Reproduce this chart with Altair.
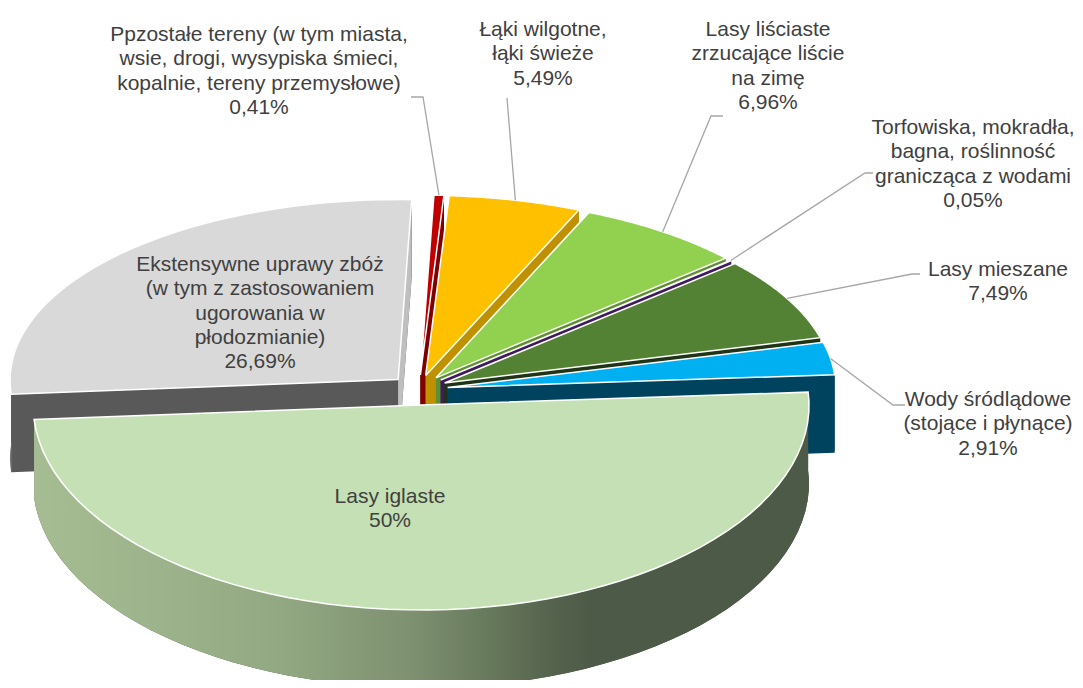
import math
import altair as alt
import pandas as pd

# ---------------- data ----------------
NAMES = ["Ppzostałe tereny", "Łąki wilgotne", "Lasy liściaste", "Torfowiska",
         "Lasy mieszane", "Wody śródlądowe", "Lasy iglaste", "Ekstensywne uprawy zbóż"]
LABELS = [
    "Ppzostałe tereny (w tym miasta,\nwsie, drogi, wysypiska śmieci,\nkopalnie, tereny przemysłowe)",
    "Łąki wilgotne,\nłąki świeże",
    "Lasy liściaste\nzrzucające liście\nna zimę",
    "Torfowiska, mokradła,\nbagna, roślinność\ngranicząca z wodami",
    "Lasy mieszane",
    "Wody śródlądowe\n(stojące i płynące)",
    "Lasy iglaste",
    "Ekstensywne uprawy zbóż\n(w tym z zastosowaniem\nugorowania w\npłodozmianie)",
]
VALUES = [0.41, 5.49, 6.96, 0.05, 7.49, 2.91, 50.0, 26.69]

# ---------------- styles ----------------
TOP_COLORS = ["#C00000", "#FFC000", "#92D050", "#7030A0", "#548235", "#00B0F0", "#C5E0B4", "#D9D9D9"]
SIDE_COLORS = ["#7F0000", "#BF9000", "#5F8F33", "#3F1B5E", "#1F3315", "#00435F", "#4E5B48", "#595959"]
GRAY_EDGE = "#BFBFBF"

# ---------------- layout (chart pixel space) ----------------
W, H = 1067, 672
CX, CY = 411, 382          # pie centre
EX, EY = 29, 15            # explosion offset
RX, RYB, RYF = 388, 180, 205
DEPTH = 78
ROT = 2.0                  # first slice angle (degrees)
N = 60

LABEL_X = [251, 535, 760, 965, 990, 980, 382, 252]
LABEL_Y = [27, 22, 22, 120, 262, 392, 489, 257]
LEAD_MX = [415, 499, 703, 857, 904, 885, None, None]
LEAD_MY = [89, 90, 108, 165, 266, 397, None, None]
LEAD_EX = [403, 499, 715, 865, 912, 897, None, None]
LEAD_EY = [89, 90, 108, 165, 266, 397, None, None]


def pct(v):
    s = f"{v:.2f}".rstrip("0").rstrip(".")
    return s.replace(".", ",") + "%"


# painter order (back slices first)
tot = sum(VALUES)
cum = 0.0
mids = []
for v in VALUES:
    mids.append(math.radians(ROT) + 2 * math.pi * (cum + v / 2) / tot)
    cum += v
back_to_front = sorted(range(len(VALUES)), key=lambda i: -math.cos(mids[i]))
Z = [back_to_front.index(i) for i in range(len(VALUES))]

df = pd.DataFrame({
    "name": NAMES, "label": LABELS, "value": VALUES, "ord": list(range(len(VALUES))),
    "z": Z, "pct": [pct(v) for v in VALUES],
    "lx": LABEL_X, "ly": LABEL_Y,
    "mx": LEAD_MX, "my": LEAD_MY, "ex": LEAD_EX, "ey": LEAD_EY,
})

xs = alt.Scale(domain=[0, W], nice=False, zero=False)
ys = alt.Scale(domain=[0, H], nice=False, zero=False, reverse=True)
X = lambda f: alt.X(f, type="quantitative", scale=xs, axis=None)
Y = lambda f: alt.Y(f, type="quantitative", scale=ys, axis=None)


def ex_x(a):
    return f"datum.ox+{RX}*sin({a})"


def ex_y(a):
    return f"datum.oy-(cos({a})>0?{RYB}:{RYF})*cos({a})"


base = alt.Chart(df)
ROT_RAD = math.radians(ROT)


def geo(ch):
    return (ch.transform_joinaggregate(total="sum(value)")
            .transform_window(cum="sum(value)", sort=[alt.SortField("ord")], frame=[None, 0])
            .transform_calculate(a0=f"{ROT_RAD}+2*PI*(datum.cum-datum.value)/datum.total",
                                 a1=f"{ROT_RAD}+2*PI*datum.cum/datum.total")
            .transform_calculate(am="(datum.a0+datum.a1)/2")
            .transform_calculate(ox=f"{CX}+{EX}*sin(datum.am)", oy=f"{CY}-{EY}*cos(datum.am)"))


NB = 2 * N + 2
side_src = (geo(base)
            .transform_calculate(s=f"sequence(0,{NB + 8})")
            .transform_flatten(["s"], as_=["k"])
            .transform_calculate(part=f"datum.k<{NB}?0:(datum.k<{NB + 4}?1:2)",
                                 j=f"datum.k<{NB}?0:(datum.k-{NB})%4")
            .transform_calculate(
                ctr="datum.part>0&&(datum.j==0||datum.j==3)",
                ang=(f"datum.part==0?(datum.k<={N}?datum.a0+(datum.a1-datum.a0)*datum.k/{N}:"
                     f"datum.a1-(datum.a1-datum.a0)*(datum.k-{N + 1})/{N}):(datum.part==1?datum.a0:datum.a1)"),
                dz=f"datum.part==0?(datum.k<={N}?0:{DEPTH}):(datum.j>=2?{DEPTH}:0)")
            .transform_calculate(px=f"datum.ctr?datum.ox:{ex_x('datum.ang')}",
                                 py=f"(datum.ctr?datum.oy:{ex_y('datum.ang')})+datum.dz"))

GRAY_NAME = NAMES[-1]
side_layers = []
for r in range(len(VALUES)):
    side_layers.append(
        side_src.transform_filter(f"datum.z=={r}")
        .mark_line(filled=True, strokeWidth=0)
        .encode(x=X("px"), y=Y("py"), order=alt.Order("k:Q"), detail="part:N",
                color=alt.Color("name:N", scale=alt.Scale(domain=NAMES, range=SIDE_COLORS), legend=None))
    )
    if r == Z[-1]:
        side_layers.append(
            side_src.transform_filter(f"datum.name=='{GRAY_NAME}'&&datum.part==2")
            .mark_line(filled=True, color=GRAY_EDGE, strokeWidth=0)
            .encode(x=X("px"), y=Y("py"), order=alt.Order("k:Q"))
        )

grad = alt.Gradient(gradient="linear", x1=0, x2=1, y1=0, y2=0, stops=[
    alt.GradientStop(offset=0, color="#A6BD93"),
    alt.GradientStop(offset=0.31, color="#93A983"),
    alt.GradientStop(offset=0.49, color="#7D9070"),
    alt.GradientStop(offset=0.58, color="#697B5D"),
    alt.GradientStop(offset=0.67, color="#55624D"),
    alt.GradientStop(offset=0.72, color="#4D5A47"),
    alt.GradientStop(offset=1, color="#4D5A47"),
])
band_front = (side_src.transform_filter("datum.name=='Lasy iglaste'&&datum.part==0")
              .mark_line(filled=True, color=grad, strokeWidth=0)
              .encode(x=X("px"), y=Y("py"), order=alt.Order("k:Q")))

top = (geo(base)
       .transform_calculate(s=f"sequence(0,{N + 3})")
       .transform_flatten(["s"], as_=["k"])
       .transform_calculate(c=f"datum.k==0||datum.k=={N + 2}",
                            ang=f"datum.a0+(datum.a1-datum.a0)*clamp((datum.k-1)/{N},0,1)")
       .transform_calculate(px=f"datum.c?datum.ox:{ex_x('datum.ang')}",
                            py=f"datum.c?datum.oy:{ex_y('datum.ang')}")
       .mark_line(filled=True, stroke="white", strokeWidth=1.5, strokeJoin="miter")
       .encode(x=X("px"), y=Y("py"), order=alt.Order("k:Q"), detail="name:N",
               color=alt.Color("name:N", scale=alt.Scale(domain=NAMES, range=TOP_COLORS), legend=None)))

leaders = (geo(base)
           .transform_filter("isValid(datum.mx)")
           .transform_calculate(s="sequence(0,3)")
           .transform_flatten(["s"], as_=["j"])
           .transform_calculate(px=f"datum.j==0?{ex_x('datum.am')}:(datum.j==1?datum.mx:datum.ex)",
                                py=f"datum.j==0?{ex_y('datum.am')}:(datum.j==1?datum.my:datum.ey)")
           .mark_line(color="#A6A6A6", strokeWidth=1.3)
           .encode(x=X("px"), y=Y("py"), order=alt.Order("j:Q"), detail="name:N"))

labels = (base.transform_calculate(txt="datum.label + '\\n' + datum.pct")
          .mark_text(font="Liberation Sans", fontSize=21, color="#404040", lineBreak="\n",
                     lineHeight=24.3, align="center", baseline="middle")
          .encode(x=X("lx"), y=Y("ly"), text="txt:N"))

chart = (alt.layer(*side_layers, band_front, top, leaders, labels)
         .resolve_scale(color="independent")
         .properties(width=W, height=H, padding=0, autosize="none")
         .configure_view(stroke=None))

chart.save("out.html", embed_options={"renderer": "svg", "actions": False})
